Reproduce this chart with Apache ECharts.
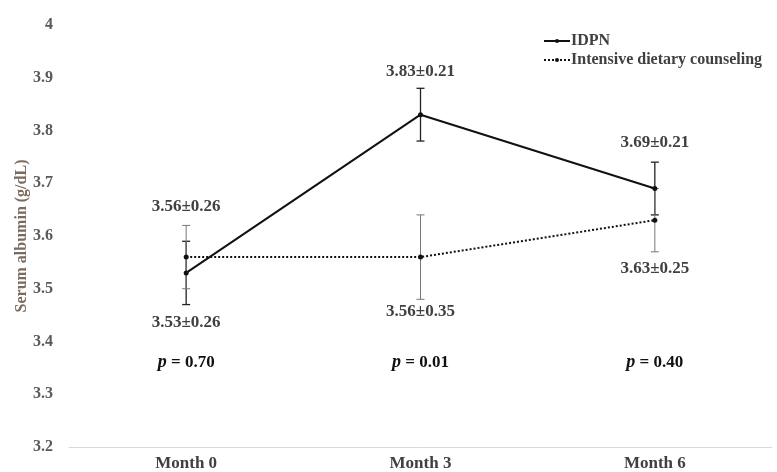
<!DOCTYPE html>
<html>
<head>
<meta charset="utf-8">
<title>Serum albumin</title>
<script src="https://cdn.jsdelivr.net/npm/echarts@6/dist/echarts.min.js"></script>
<style>
  html, body { margin: 0; padding: 0; background: #fff; }
  #chart { width: 777px; height: 472px; }
</style>
</head>
<body>
<div id="chart"></div>
<script>
// data
var months = ['Month 0', 'Month 3', 'Month 6'];
var idpnMean = [3.53, 3.83, 3.69];
var idpnErr = [0.06, 0.05, 0.05];
var dietMean = [3.56, 3.56, 3.63];
var dietErr = [0.06, 0.08, 0.06];
var idpnLabels = ['3.53\u00b10.26', '3.83\u00b10.21', '3.69\u00b10.21'];
var dietLabels = ['3.56\u00b10.26', '3.56\u00b10.35', '3.63\u00b10.25'];
var pValues = ['0.70', '0.01', '0.40'];
var yTicks = [3.2, 3.3, 3.4, 3.5, 3.6, 3.7, 3.8, 3.9, 4];

var FONT = '"Liberation Serif", "Times New Roman", serif';
var TEXT = '#404040';

function errData(mean, err) {
    return mean.map(function (m, i) { return [i, m - err[i], m + err[i]]; });
}

function errBars(color, width) {
    return function (params, api) {
        var x = api.value(0);
        var lo = api.coord([x, api.value(1)]);
        var hi = api.coord([x, api.value(2)]);
        var style = {stroke: color, lineWidth: width};
        return {
            type: 'group',
            children: [
                {type: 'line', shape: {x1: lo[0], y1: lo[1], x2: hi[0], y2: hi[1]}, style: style},
                {type: 'line', shape: {x1: lo[0] - 4, y1: lo[1], x2: lo[0] + 4, y2: lo[1]}, style: style},
                {type: 'line', shape: {x1: hi[0] - 4, y1: hi[1], x2: hi[0] + 4, y2: hi[1]}, style: style}
            ]
        };
    };
}

// vertical offsets of the mean±SD labels from their points
var idpnShift = [50, -43, -46];
var dietShift = [-50, 55, 48];

function withLabels(mean, labels, shift) {
    return mean.map(function (v, i) {
        return {
            value: v,
            label: {show: true, formatter: labels[i], position: 'inside', offset: [0, shift[i]]}
        };
    });
}

var labelStyle = {color: TEXT, fontFamily: FONT, fontWeight: 'bold', fontSize: 17};

var myChart = echarts.init(document.getElementById('chart'));
myChart.setOption({
    animation: false,
    grid: {left: 69, right: 5, top: 25, bottom: 25},
    legend: {
        orient: 'vertical',
        left: 538,
        top: 28,
        itemGap: 3,
        itemWidth: 26,
        itemHeight: 5,
        data: ['IDPN', 'Intensive dietary counseling'],
        textStyle: {color: TEXT, fontFamily: FONT, fontWeight: 'bold', fontSize: 16, padding: [0, 0, 0, -4]}
    },
    xAxis: {
        type: 'category',
        data: months,
        axisTick: {show: false},
        axisLine: {lineStyle: {color: '#d9d9d9', width: 1}},
        axisLabel: {color: TEXT, fontFamily: FONT, fontWeight: 'bold', fontSize: 17, margin: 8}
    },
    yAxis: {
        type: 'value',
        min: yTicks[0],
        max: yTicks[yTicks.length - 1],
        interval: 0.1,
        splitLine: {show: false},
        axisLine: {show: false},
        axisTick: {show: false},
        axisLabel: {
            color: '#595959', fontFamily: FONT, fontWeight: 'bold', fontSize: 16, margin: 16,
            formatter: function (v) { return String(Math.round(v * 10) / 10); }
        },
        name: 'Serum albumin (g/dL)',
        nameLocation: 'middle',
        nameGap: 39,
        nameMoveOverlap: false,
        nameTextStyle: {color: '#7a6b60', fontFamily: FONT, fontWeight: 'bold', fontSize: 16}
    },
    series: [
        {
            name: 'IDPN err',
            type: 'custom',
            renderItem: errBars('#222', 1.3),
            data: errData(idpnMean, idpnErr),
            z: 1
        },
        {
            name: 'Diet err',
            type: 'custom',
            renderItem: errBars('#777', 1),
            data: errData(dietMean, dietErr),
            z: 1
        },
        {
            name: 'IDPN',
            type: 'line',
            data: withLabels(idpnMean, idpnLabels, idpnShift),
            symbol: 'circle',
            symbolSize: 5,
            itemStyle: {color: '#111'},
            lineStyle: {color: '#111', width: 2},
            label: labelStyle,
            z: 3
        },
        {
            name: 'Intensive dietary counseling',
            type: 'line',
            data: withLabels(dietMean, dietLabels, dietShift),
            symbol: 'circle',
            symbolSize: 5,
            itemStyle: {color: '#111'},
            lineStyle: {color: '#111', width: 2, type: [2, 2]},
            label: labelStyle,
            z: 3
        },
        {
            name: 'p values',
            type: 'custom',
            data: pValues.map(function (p, i) { return [i, 3.36, p]; }),
            renderItem: function (params, api) {
                var pt = api.coord([api.value(0), api.value(1)]);
                return {
                    type: 'text',
                    x: pt[0],
                    y: pt[1],
                    style: {
                        text: '{i|p} = ' + pValues[params.dataIndex],
                        align: 'center',
                        verticalAlign: 'middle',
                        fill: '#111',
                        font: 'bold 17px ' + FONT,
                        rich: {
                            i: {fontStyle: 'italic', fontWeight: 'bold', fontSize: 18, fontFamily: FONT, fill: '#111'}
                        }
                    }
                };
            }
        }
    ]
});
</script>
</body>
</html>
